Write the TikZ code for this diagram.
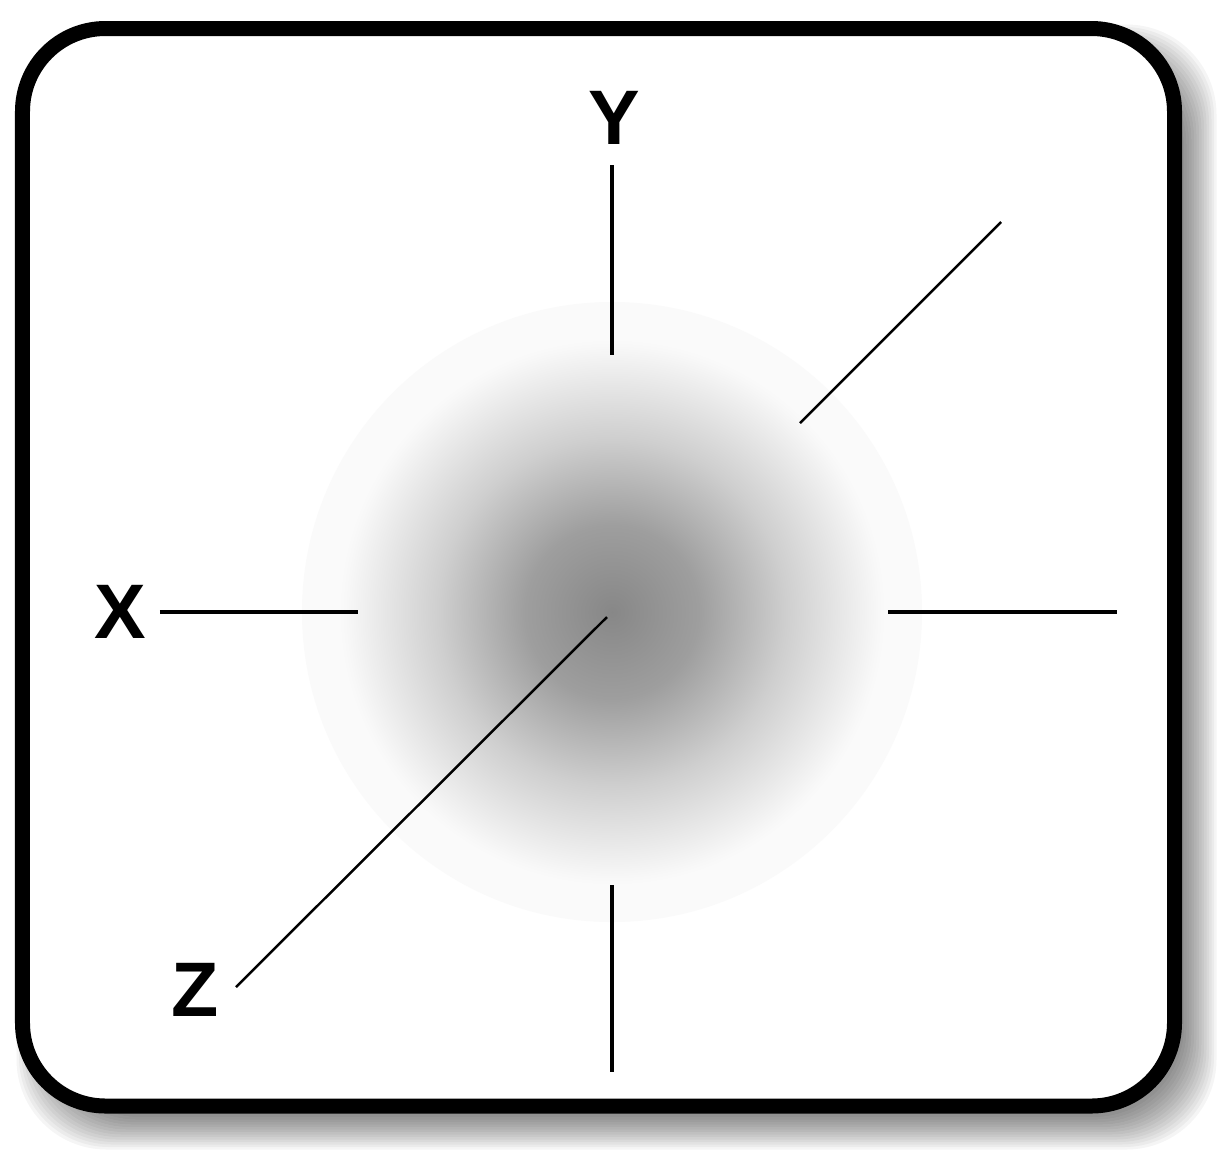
\documentclass[tikz,border=0pt]{standalone}
\usepackage{fontspec}
\setsansfont{Liberation Sans}
\usetikzlibrary{positioning}
\pgfdeclareradialshading{axisglow}{\pgfpointorigin}{%
  color(0bp)=(black!47); color(7bp)=(black!38); color(14bp)=(black!19);
  color(21.4bp)=(black!3); color(22bp)=(black!2); color(25bp)=(black!2); color(50bp)=(white)}

\begin{document}
\begin{tikzpicture}[
  frame/.style={line width=0.15cm,rounded corners=0.83cm,fill=white},
  shadowlayer/.style={fill=black,opacity=0.04,rounded corners=0.9cm},
  axis/.style={line width=1.4pt},
  slant/.style={line width=0.7pt},
  letter/.style={font=\sffamily\bfseries\fontsize{22}{26}\selectfont,inner sep=0pt}]
  \useasboundingbox (-6.12,-5.39) rectangle (6.07,6.12);
  \foreach \k in {0,...,13}
    \fill[shadowlayer] ({-5.79-(-0.16+0.025*\k)},{-5.21-(-0.16+0.025*\k)})
      rectangle ({5.88+(-0.16+0.025*\k)},{5.71+(-0.16+0.025*\k)});
  \draw[frame] (-5.895,-4.94) rectangle (5.625,5.835);
  \shade[shading=axisglow] (0,0) circle (3.1cm);

  \coordinate (ytop) at (0,4.47);
  \coordinate (yin) at (0,2.57);
  \coordinate (ylow) at (0,-2.73);
  \coordinate (ybot) at (0,-4.60);
  \coordinate (xleft) at (-4.52,0);
  \coordinate (xin) at (-2.54,0);
  \coordinate (xout) at (2.76,0);
  \coordinate (xright) at (5.05,0);
  \coordinate (zback) at (1.88,1.89);
  \coordinate (zfar) at (3.89,3.90);
  \coordinate (zorig) at (-0.05,-0.05);
  \coordinate (znear) at (-3.76,-3.75);

  \draw[axis] (ytop) -- (yin);
  \draw[axis] (ylow) -- (ybot);
  \draw[axis] (xleft) -- (xin);
  \draw[axis] (xout) -- (xright);
  \draw[slant] (zback) -- (zfar);
  \draw[slant] (zorig) -- (znear);

  \node[letter] (ylab) at (0.02,4.94) {Y};
  \node[letter] (xlab) at (-4.92,0) {X};
  \node[letter] (zlab) at (-4.17,-3.78) {Z};
\end{tikzpicture}
\end{document}
